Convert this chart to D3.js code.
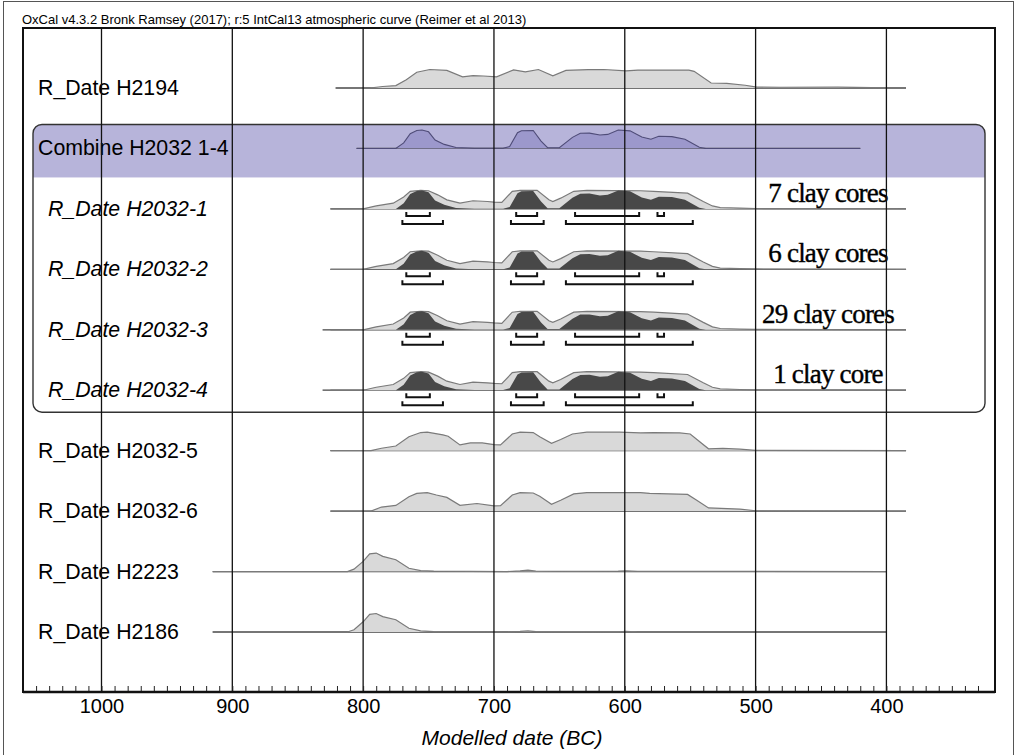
<!DOCTYPE html>
<html lang="en">
<head>
<meta charset="UTF-8">
<script src="https://d3js.org/d3.v7.min.js"></script>
<title>OxCal multiplot</title>
<style>
  body { margin: 0; background: #fff; }
  text { font-family: Arial, "Liberation Sans", sans-serif; }
</style>
</head>
<body>
<div id="chart"></div>
<script>
// ---- data (years BC, relative probability 0..1) ----
const rowNames = ["R_Date H2194", "Combine H2032 1-4", "R_Date H2032-1", "R_Date H2032-2",
  "R_Date H2032-3", "R_Date H2032-4", "R_Date H2032-5", "R_Date H2032-6", "R_Date H2223", "R_Date H2186"];
const groupMembers = ["R_Date H2032-1", "R_Date H2032-2", "R_Date H2032-3", "R_Date H2032-4"];
const clayLabels = ["7 clay cores", "6 clay cores", "29 clay cores", "1 clay core"];

// extent of the thin baseline of each row
const lineStart = [821, 805, 825, 825, 831, 831, 825, 825, 915, 915];
const lineEnd = [385, 420, 385, 385, 385, 385, 385, 385, 400, 400];

const h2194 = [[821,0],[795,0],[785,0.08],[775,0.13],[767,0.45],[759,0.85],[749,1.0],[736,0.95],[724,0.6],
  [716,0.67],[708,0.65],[698,0.6],[685,0.98],[676,0.87],[666,1.0],[655,0.66],[645,0.95],[628,0.99],[616,1.0],
  [599,0.93],[590,0.97],[551,0.97],[547,0.9],[534,0.27],[522,0.25],[508,0.15],[499,0.05],[481,0.04],[437,0.05],
  [411,0.02],[399,0],[385,0]];

const combine = [[805,0],[775,0],[769,0.3],[764,0.8],[759,0.97],[755,1.0],[750,0.9],[745,0.45],[738,0.22],
  [729,0.05],[715,0.01],[693,0.01],[688,0.1],[682,0.85],[679,0.96],[670,0.97],[664,0.4],[659,0.04],[650,0.04],
  [640,0.6],[634,0.82],[627,0.83],[619,0.73],[613,0.76],[605,1.0],[596,0.95],[587,0.62],[580,0.5],[574,0.66],
  [564,0.64],[554,0.5],[543,0.06],[538,0],[420,0]];

const likeH2032 = [[825,0],[800,0],[790,0.16],[777,0.31],[769,0.64],[764,0.95],[756,1.0],[750,0.98],[743,0.76],
  [736,0.49],[726,0.31],[716,0.44],[705,0.4],[700,0.37],[694,0.35],[686,0.95],[680,1.0],[667,1.0],[658,0.49],
  [655,0.4],[649,0.58],[639,0.95],[629,1.0],[588,0.98],[578,0.95],[552,0.85],[540,0.4],[533,0.16],[527,0.07],
  [512,0.04],[500,0.02],[385,0]];

const h2032_5 = [[825,0],[794,0],[786,0.13],[775,0.25],[765,0.75],[756,0.98],[751,1.0],[739,0.85],[735,0.78],
  [726,0.31],[718,0.42],[709,0.42],[700,0.33],[695,0.31],[686,0.9],[680,1.0],[670,0.98],[665,0.75],[656,0.4],
  [649,0.6],[640,0.9],[629,1.0],[604,1.0],[588,0.96],[578,0.98],[558,0.96],[550,0.9],[536,0.1],[525,0.12],
  [512,0.08],[500,0.02],[385,0]];

const h2032_6 = [[825,0],[794,0],[786,0.22],[775,0.31],[765,0.78],[759,0.96],[751,1.0],[744,0.87],[736,0.74],
  [726,0.31],[713,0.41],[700,0.28],[695,0.29],[686,0.87],[680,1.0],[670,0.98],[665,0.8],[656,0.37],[649,0.59],
  [639,0.93],[629,1.0],[588,1.0],[581,0.96],[552,0.9],[545,0.59],[536,0.17],[512,0.11],[500,0.02],[385,0]];

const h2223 = [[915,0],[812,0],[807,0.13],[800,0.55],[795,0.96],[790,1.0],[785,0.82],[775,0.64],[765,0.18],
  [756,0.05],[746,0.02],[690,0],[680,0.04],[674,0.08],[668,0.03],[640,0.01],[605,0.02],[599,0.04],[590,0.01],[400,0]];

const h2186 = [[915,0],[812,0],[807,0.12],[800,0.55],[795,0.95],[790,1.0],[785,0.83],[775,0.66],[765,0.2],
  [756,0.06],[746,0.02],[690,0],[680,0.03],[674,0.06],[668,0.02],[605,0.01],[599,0.03],[590,0],[400,0]];

// highest posterior density ranges for H2032-1..4
const hpd68 = [[767,749],[683,667],[638,589],[575,570]];
const hpd95 = [[770,739],[687,662],[645,548]];

const majorTicks = [1000, 900, 800, 700, 600, 500, 400];

// likelihood (light) per row
const likeRows = [h2194, null, likeH2032, likeH2032, likeH2032, likeH2032, h2032_5, h2032_6, h2223, h2186];

// ---- drawing ----
const width = 1017, height = 755;
const svg = d3.select("#chart").append("svg").attr("width", width).attr("height", height);

const x = d3.scaleLinear().domain([1060, 317]).range([23, 995]);
const rowY = d3.scaleLinear().domain([0, rowNames.length - 1]).range([88, 632]);
const h = d3.scaleLinear().domain([0, 1]).range([0, 18.5]);
const plotTop = 28, plotBottom = 692;

const areaAt = base => d3.area().x(d => x(d[0])).y0(base).y1(d => base - h(d[1]));
const lineAt = base => d3.line().x(d => x(d[0])).y(d => base - h(d[1]));

// outer border + header
svg.append("rect").attr("x", 3.5).attr("y", 1.5).attr("width", 1010).attr("height", 770)
  .attr("fill", "none").attr("stroke", "#555").attr("stroke-width", 1);
svg.append("text").attr("x", 22).attr("y", 24).attr("font-size", "13px")
  .text("OxCal v4.3.2 Bronk Ramsey (2017); r:5 IntCal13 atmospheric curve (Reimer et al 2013)");

// group box for the combine
const boxTop = rowY(1) - 24, boxBottom = rowY(5) + 22, boxLeft = 33, boxRight = 985;
svg.append("clipPath").attr("id", "boxclip").append("rect")
  .attr("x", boxLeft).attr("y", boxTop).attr("width", boxRight - boxLeft).attr("height", boxBottom - boxTop).attr("rx", 9);
svg.append("rect").attr("clip-path", "url(#boxclip)")
  .attr("x", boxLeft).attr("y", boxTop).attr("width", boxRight - boxLeft).attr("height", rowY(1) + 29 - boxTop)
  .attr("fill", "#b7b4da");
svg.append("rect")
  .attr("x", boxLeft).attr("y", boxTop).attr("width", boxRight - boxLeft).attr("height", boxBottom - boxTop).attr("rx", 9)
  .attr("fill", "none").attr("stroke", "#333").attr("stroke-width", 1.4);

// rows
rowNames.forEach((name, i) => {
  const base = rowY(i);
  const g = svg.append("g");
  g.append("line").attr("x1", x(lineStart[i])).attr("x2", x(lineEnd[i])).attr("y1", base).attr("y2", base)
    .attr("stroke", "#444").attr("stroke-width", 1.3);

  if (name.startsWith("Combine")) {
    g.append("path").datum(combine).attr("d", areaAt(base)).attr("fill", "#9c98cc");
    g.append("path").datum(combine).attr("d", lineAt(base)).attr("fill", "none").attr("stroke", "#4f4c78").attr("stroke-width", 1.1);
  } else {
    g.append("path").datum(likeRows[i]).attr("d", areaAt(base)).attr("fill", "#d9d9d9");
    g.append("path").datum(likeRows[i]).attr("d", lineAt(base)).attr("fill", "none").attr("stroke", "#7a7a7a").attr("stroke-width", 1.2);
  }

  if (groupMembers.includes(name)) {
    g.append("path").datum(combine).attr("d", areaAt(base)).attr("fill", "#484848");
    // hpd brackets
    [[hpd68, 7], [hpd95, 15]].forEach(([ranges, off]) => {
      ranges.forEach(r => {
        const y0 = base + off;
        g.append("path")
          .attr("d", `M${x(r[0])},${y0 - 4}V${y0}H${x(r[1])}V${y0 - 4}`)
          .attr("fill", "none").attr("stroke", "#111").attr("stroke-width", 2);
      });
    });
  }

  g.append("text")
    .attr("x", groupMembers.includes(name) ? 48 : 38).attr("y", base + 7)
    .attr("font-size", "21.3px").attr("font-style", groupMembers.includes(name) ? "italic" : "normal")
    .text(name);
});

// annotations
clayLabels.forEach((t, k) => {
  svg.append("text").attr("x", 828).attr("y", rowY(k + 2) - 7).attr("text-anchor", "middle")
    .style("font-family", "'Liberation Serif', 'Times New Roman', serif").attr("font-size", "27px")
    .attr("letter-spacing", "-0.8px").attr("stroke", "#000").attr("stroke-width", 0.4)
    .text(t);
});

// grid lines
svg.append("g").selectAll("line").data(majorTicks).join("line")
  .attr("x1", d => x(d)).attr("x2", d => x(d)).attr("y1", plotTop).attr("y2", plotBottom)
  .attr("stroke", "#111").attr("stroke-width", 1.3);

// plot frame
svg.append("rect").attr("x", 23).attr("y", plotTop).attr("width", 995 - 23).attr("height", plotBottom - plotTop)
  .attr("fill", "none").attr("stroke", "#111").attr("stroke-width", 2);

// minor ticks (every 10 years, pointing up)
const minor = d3.axisBottom(x).tickValues(d3.range(1050, 320, -10)).tickSize(-6).tickFormat("");
svg.append("g").attr("transform", `translate(0,${plotBottom})`).call(minor)
  .call(g => g.select(".domain").remove())
  .call(g => g.selectAll(".tick line").attr("stroke", "#222").attr("stroke-width", 1));

// labels
const major = d3.axisBottom(x).tickValues(majorTicks).tickSize(0).tickPadding(7).tickFormat(d => d);
svg.append("g").attr("transform", `translate(0,${plotBottom})`).call(major)
  .call(g => g.select(".domain").remove())
  .call(g => g.selectAll(".tick text").attr("font-size", "20px").attr("fill", "#000")
    .style("font-family", "Arial, 'Liberation Sans', sans-serif"));

svg.append("line").attr("x1", 23).attr("x2", 995).attr("y1", plotBottom).attr("y2", plotBottom)
  .attr("stroke", "#111").attr("stroke-width", 2.5);

svg.append("text").attr("x", 512).attr("y", 745).attr("text-anchor", "middle")
  .attr("font-size", "21px").attr("font-style", "italic").text("Modelled date (BC)");
</script>
</body>
</html>
